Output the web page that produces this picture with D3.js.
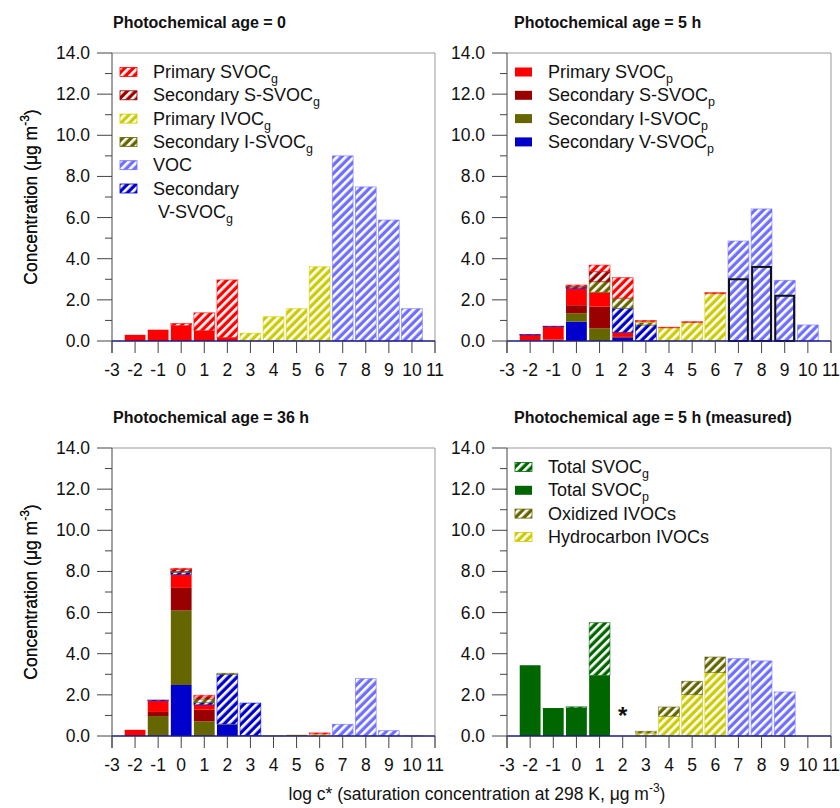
<!DOCTYPE html>
<html><head><meta charset="utf-8">
<script src="https://cdn.jsdelivr.net/npm/d3@7"></script>
<style>body{margin:0;background:#fff} text{font-family:Arial,"Liberation Sans",sans-serif;fill:#111}</style>
</head><body><svg id="c" width="840" height="808"></svg>
<script>
// ---------- DATA ----------
const bins = [-2,-1,0,1,2,3,4,5,6,7,8,9,10];
const xTicks = [-3,-2,-1,0,1,2,3,4,5,6,7,8,9,10,11];
const yTicks = [0,2,4,6,8,10,12,14];
const panelTitles = ["Photochemical age = 0","Photochemical age = 5 h","Photochemical age = 36 h","Photochemical age = 5 h (measured)"];

// Panel 1: age 0
const p1_svocP  = [0.30,0.55,0.75,0.50,0.17,0,0,0,0,0,0,0,0];
const p1_svocG  = [0,0,0.10,0.87,2.80,0,0,0,0,0,0,0,0];
const p1_ivocG  = [0,0,0,0,0,0.38,1.18,1.57,3.61,0,0,0,0];
const p1_voc    = [0,0,0,0,0,0,0,0,0,9.00,7.49,5.88,1.57];

// Panel 2: age 5 h (model)
const p2_vsvocP = [0.02,0,0.94,0,0.16,0,0,0,0,0,0,0,0];
const p2_isvocP = [0,0.05,0.41,0.62,0,0,0,0,0,0,0,0,0];
const p2_ssvocP = [0,0.02,0.39,1.05,0.04,0,0,0,0,0,0,0,0];
const p2_svocP  = [0.28,0.63,0.82,0.70,0.22,0,0,0,0,0,0,0,0];
const p2_vsvocG = [0.02,0.02,0.06,0,1.17,0.78,0,0,0,0,0,0,0];
const p2_voc    = [0,0,0,0,0,0,0,0,0,4.86,6.42,2.95,0.78];
const p2_isvocG = [0,0,0.04,0.51,0.49,0.12,0,0,0,0,0,0,0];
const p2_ivocG  = [0,0,0,0,0,0.04,0.64,0.90,2.30,0,0,0,0];
const p2_ssvocG = [0,0,0,0.49,0,0,0,0,0,0,0,0,0];
const p2_svocG  = [0,0,0.06,0.32,1.00,0.06,0.03,0.04,0.05,0,0,0,0];
const p2_outline = [0,0,0,0,0,0,0,0,0,3.0,3.6,2.2,0];

// Panel 3: age 36 h
const p3_vsvocP = [0,0,2.48,0,0.55,0.02,0,0,0,0,0,0,0];
const p3_isvocP = [0,0.97,3.62,0.71,0.03,0,0,0,0,0,0,0,0];
const p3_ssvocP = [0,0.20,1.10,0.57,0,0,0,0.04,0,0,0,0,0];
const p3_svocP  = [0.30,0.55,0.65,0.24,0,0,0,0,0,0,0,0,0];
const p3_vsvocG = [0,0.03,0.10,0.10,2.42,1.58,0,0,0,0,0,0,0];
const p3_voc    = [0,0,0,0,0,0,0,0,0,0.57,2.79,0.26,0.01];
const p3_isvocG = [0,0,0.05,0.18,0.05,0,0,0,0,0,0,0,0];
const p3_ivocG  = [0,0,0,0,0,0,0.02,0.01,0.10,0,0,0,0];
const p3_ssvocG = [0,0,0.10,0.10,0,0,0,0,0,0,0,0,0];
const p3_svocG  = [0,0,0.05,0.08,0,0,0,0,0.05,0,0,0,0];

// Panel 4: age 5 h (measured)
const p4_tSvocP = [3.44,1.36,1.37,2.95,0,0,0,0,0,0,0,0,0];
const p4_tSvocG = [0,0,0.05,2.56,0,0,0,0,0,0,0,0,0];
const p4_hcIvoc = [0,0,0,0,0,0.15,0.96,2.01,3.08,0,0,0,0];
const p4_oxIvoc = [0,0,0,0,0,0.08,0.45,0.65,0.76,0,0,0,0];
const p4_voc    = [0,0,0,0,0,0,0,0,0,3.76,3.65,2.14,0];
const p4_asteriskBin = 2;

// ---------- STYLES ----------
const style = {
  vsvocP:{color:"#0000cc",hatch:false}, isvocP:{color:"#666600",hatch:false},
  ssvocP:{color:"#990000",hatch:false}, svocP:{color:"#ff0000",hatch:false},
  vsvocG:{color:"#0000cc",hatch:true}, voc:{color:"#6f6fff",hatch:true},
  isvocG:{color:"#666600",hatch:true}, ivocG:{color:"#cccc00",hatch:true},
  ssvocG:{color:"#990000",hatch:true}, svocG:{color:"#ff0000",hatch:true},
  tSvocP:{color:"#006600",hatch:false}, tSvocG:{color:"#006600",hatch:true},
  hcIvoc:{color:"#cccc00",hatch:true}, oxIvoc:{color:"#666600",hatch:true}
};

const svg = d3.select("#c");
const defs = svg.append("defs");
const hatchColors = {};
Object.values(style).forEach(s=>{ if(s.hatch) hatchColors[s.color]=1; });
Object.keys(hatchColors).forEach((c,i)=>{
  const p = defs.append("pattern").attr("id","h"+c.slice(1)).attr("patternUnits","userSpaceOnUse")
    .attr("width",6).attr("height",6).attr("patternTransform","rotate(45)");
  p.append("rect").attr("width",6).attr("height",6).attr("fill",c);
  p.append("rect").attr("width",2.7).attr("height",6).attr("fill","#fff");
});
function fillOf(k){ const s=style[k]; return s.hatch ? "url(#h"+s.color.slice(1)+")" : s.color; }

const panels = [
  {x0:112,x1:435,y0:53,y1:341,title:panelTitles[0],tx:113,
   series:{svocP:p1_svocP,svocG:p1_svocG,ivocG:p1_ivocG,voc:p1_voc},
   order:["vsvocP","isvocP","ssvocP","svocP","vsvocG","voc","isvocG","ivocG","ssvocG","svocG"],
   legend:[["svocG","Primary SVOC","g"],["ssvocG","Secondary S-SVOC","g"],["ivocG","Primary IVOC","g"],
           ["isvocG","Secondary I-SVOC","g"],["voc","VOC",""],["vsvocG","Secondary|V-SVOC","g"]]},
  {x0:507,x1:831,y0:53,y1:341,title:panelTitles[1],tx:514,
   series:{vsvocP:p2_vsvocP,isvocP:p2_isvocP,ssvocP:p2_ssvocP,svocP:p2_svocP,vsvocG:p2_vsvocG,voc:p2_voc,
           isvocG:p2_isvocG,ivocG:p2_ivocG,ssvocG:p2_ssvocG,svocG:p2_svocG},
   order:["vsvocP","isvocP","ssvocP","svocP","vsvocG","voc","isvocG","ivocG","ssvocG","svocG"],
   outline:p2_outline,
   legend:[["svocP","Primary SVOC","p"],["ssvocP","Secondary S-SVOC","p"],["isvocP","Secondary I-SVOC","p"],["vsvocP","Secondary V-SVOC","p"]]},
  {x0:112,x1:435,y0:448,y1:736,title:panelTitles[2],tx:113,
   series:{vsvocP:p3_vsvocP,isvocP:p3_isvocP,ssvocP:p3_ssvocP,svocP:p3_svocP,vsvocG:p3_vsvocG,voc:p3_voc,
           isvocG:p3_isvocG,ivocG:p3_ivocG,ssvocG:p3_ssvocG,svocG:p3_svocG},
   order:["vsvocP","isvocP","ssvocP","svocP","vsvocG","voc","isvocG","ivocG","ssvocG","svocG"],
   legend:[]},
  {x0:507,x1:831,y0:448,y1:736,title:panelTitles[3],tx:514,
   series:{tSvocP:p4_tSvocP,tSvocG:p4_tSvocG,hcIvoc:p4_hcIvoc,oxIvoc:p4_oxIvoc,voc:p4_voc},
   order:["tSvocP","tSvocG","hcIvoc","oxIvoc","voc"],
   asterisk:p4_asteriskBin,
   legend:[["tSvocG","Total SVOC","g"],["tSvocP","Total SVOC","p"],["oxIvoc","Oxidized IVOCs",""],["hcIvoc","Hydrocarbon IVOCs",""]]}
];

panels.forEach(P=>{
  const g = svg.append("g");
  const x = d3.scaleLinear().domain([-3,11]).range([P.x0,P.x1]);
  const y = d3.scaleLinear().domain([0,14]).range([P.y1,P.y0]);
  const bw = (x(1)-x(0))*0.9;
  // frame top/right
  g.append("line").attr("x1",P.x0).attr("x2",P.x1).attr("y1",P.y0).attr("y2",P.y0).attr("stroke","#999");
  g.append("line").attr("x1",P.x1).attr("x2",P.x1).attr("y1",P.y0).attr("y2",P.y1+12).attr("stroke","#999");
  // stacked bars
  const keys = P.order.filter(k=>P.series[k]);
  const rows = bins.map((b,i)=>{ const r={bin:b}; keys.forEach(k=>r[k]=P.series[k][i]); return r; });
  const stack = d3.stack().keys(keys)(rows);
  stack.forEach(layer=>{
    const k = layer.key, s = style[k];
    g.append("g").selectAll("rect").data(layer.filter(d=>d[1]-d[0]>0)).join("rect")
      .attr("x",d=>x(d.data.bin)-bw/2).attr("width",bw)
      .attr("y",d=>y(d[1])).attr("height",d=>y(d[0])-y(d[1]))
      .attr("fill",fillOf(k))
      .attr("stroke",s.hatch? s.color : "none").attr("stroke-width",0.8).attr("stroke-opacity",0.7);
  });
  if(P.outline){
    g.append("g").selectAll("rect").data(bins.map((b,i)=>({bin:b,v:P.outline[i]})).filter(d=>d.v>0)).join("rect")
      .attr("x",d=>x(d.bin)-bw/2+1).attr("width",bw-2)
      .attr("y",d=>y(d.v)).attr("height",d=>y(0)-y(d.v))
      .attr("fill","none").attr("stroke","#111").attr("stroke-width",2);
  }
  if(P.asterisk!==undefined){
    g.append("text").attr("x",x(P.asterisk)).attr("y",P.y1-12).attr("text-anchor","middle")
      .attr("font-size",24).attr("font-weight","bold").text("*");
  }
  // baseline
  g.append("line").attr("x1",P.x0).attr("x2",P.x1).attr("y1",y(0)).attr("y2",y(0)).attr("stroke","#1a1a80").attr("stroke-width",1.3);
  // left axis
  g.append("line").attr("x1",P.x0).attr("x2",P.x0).attr("y1",P.y0).attr("y2",P.y1+12).attr("stroke","#444");
  // y ticks
  d3.range(0,15).forEach(v=>{
    const major = v%2===0;
    g.append("line").attr("x1",P.x0-(major?15:7)).attr("x2",P.x0).attr("y1",y(v)).attr("y2",y(v)).attr("stroke","#444");
  });
  g.selectAll(".yl").data(yTicks).join("text").attr("x",P.x0-22).attr("y",d=>y(d)+6)
    .attr("text-anchor","end").attr("font-size",17.5).text(d=>d.toFixed(1));
  // x ticks
  xTicks.forEach(t=>{
    g.append("line").attr("x1",x(t)).attr("x2",x(t)).attr("y1",y(0)).attr("y2",y(0)+12).attr("stroke","#444");
  });
  g.selectAll(".xl").data(xTicks).join("text").attr("x",d=>x(d)).attr("y",P.y1+35)
    .attr("text-anchor","middle").attr("font-size",17.5).text(d=>d);
  // title
  g.append("text").attr("x",P.tx).attr("y",P.y0-25).attr("font-size",16).attr("font-weight","bold").text(P.title);
  // y axis title
  const yt = g.append("text").attr("transform",`translate(37,${(P.y0+P.y1)/2}) rotate(-90)`)
    .attr("text-anchor","middle").attr("font-size",17.5);
  yt.append("tspan").text("Concentration (\u03bcg m");
  yt.append("tspan").attr("font-size",12).attr("dy",-8).text("-3");
  yt.append("tspan").attr("dy",8).text(")");
  // legend
  let ly = P.y0 + 19;
  P.legend.forEach(([k,label,sub])=>{
    const lx = P.x0+8;
    g.append("rect").attr("x",lx).attr("y",ly-4.5).attr("width",17).attr("height",9)
      .attr("fill",fillOf(k)).attr("stroke",style[k].hatch?style[k].color:"none").attr("stroke-width",0.8);
    const parts = label.split("|");
    if(parts.length===2){
      g.append("text").attr("x",lx+33).attr("y",ly+6).attr("font-size",18).text(parts[0]);
      ly += 23.3;
      const t = g.append("text").attr("x",lx+38).attr("y",ly+6).attr("font-size",18);
      t.append("tspan").text(parts[1]);
      t.append("tspan").attr("font-size",12.5).attr("dy",5).text(sub);
    } else {
      const t = g.append("text").attr("x",lx+33).attr("y",ly+6).attr("font-size",18);
      t.append("tspan").text(label);
      if(sub) t.append("tspan").attr("font-size",12.5).attr("dy",5).text(sub);
    }
    ly += 23.3;
  });
});

// x axis title
const xt = svg.append("text").attr("x",477).attr("y",800).attr("text-anchor","middle").attr("font-size",17.5);
xt.append("tspan").text("log c* (saturation concentration at 298 K, \u03bcg m");
xt.append("tspan").attr("font-size",12).attr("dy",-8).text("-3");
xt.append("tspan").attr("dy",8).text(")");
</script></body></html>
